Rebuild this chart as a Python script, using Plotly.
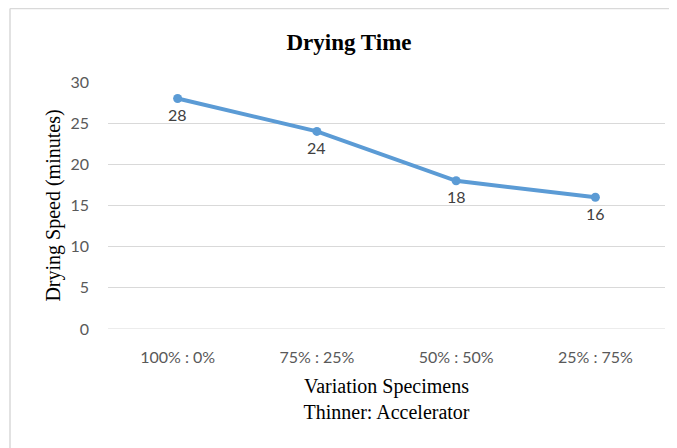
import plotly.graph_objects as go

categories = ["100% : 0%", "75% : 25%", "50% : 50%", "25% : 75%"]
drying_minutes = [28, 24, 18, 16]
y_ticks = [0, 5, 10, 15, 20, 25, 30]

# page body has an 8px default margin, so the figure is drawn 8px in from the window edge
OFF = 8
W, H = 677 - OFF, 448 - OFF
L, R, T, B = 108 - OFF, 12, 82 - OFF, 119
pw, ph = W - L - R, H - T - B

def px_x(x):
    return (x - OFF - L) / pw

def px_y(y):
    return (H - B - (y - OFF)) / ph

SANS = "Lato, Open Sans, sans-serif"
SERIF = "Liberation Serif, DejaVu Serif, serif"

fig = go.Figure()
fig.add_trace(go.Scatter(
    x=categories, y=drying_minutes, mode="lines+markers",
    line=dict(color="#5B9BD5", width=4),
    marker=dict(color="#5B9BD5", size=9),
    cliponaxis=False, showlegend=False,
))

for c, v in zip(categories, drying_minutes):
    fig.add_annotation(x=c, y=v, text=str(v), showarrow=False, xref="x", yref="y",
                       yshift=-16, font=dict(family=SANS, size=16, color="#404040"))

fig.update_layout(
    width=W, height=H,
    margin=dict(l=L, r=R, t=T, b=B),
    paper_bgcolor="white", plot_bgcolor="white",
    title=dict(text="<b>Drying Time</b>", xref="container", yref="container",
               x=(349 - OFF) / W, xanchor="center",
               y=1 - (42 - OFF) / H, yanchor="middle", automargin=False,
               font=dict(family=SERIF, size=23, color="#000000")),
    xaxis=dict(type="category", range=[-0.5, 3.5], showgrid=False, zeroline=False,
               showline=False, ticks="", ticklabelstandoff=17, automargin=False,
               tickfont=dict(family=SANS, size=16, color="#595959"),
               title=dict(text="Variation Specimens<br>Thinner: Accelerator", standoff=13,
                          font=dict(family=SERIF, size=20, color="#000000"))),
    yaxis=dict(range=[0, 30], tickvals=y_ticks, showgrid=True, gridcolor="#D9D9D9", gridwidth=1,
               zeroline=False, showline=False, ticks="", ticklabelstandoff=18, automargin=False,
               tickfont=dict(family=SANS, size=16, color="#595959"),
               title=dict(text="Drying Speed (minutes)", standoff=4,
                          font=dict(family=SERIF, size=20, color="#000000"))),
)

# zero baseline gridline
fig.add_shape(type="line", xref="paper", yref="y", x0=0, x1=1, y0=0, y1=0,
              line=dict(color="#D9D9D9", width=1))
# outer chart frame (left and top edges visible)
fig.add_shape(type="line", xref="paper", yref="paper", x0=px_x(10), x1=px_x(10),
              y0=px_y(8.6), y1=px_y(448), line=dict(color="#D9D9D9", width=1.5))
fig.add_shape(type="line", xref="paper", yref="paper", x0=px_x(10), x1=px_x(677),
              y0=px_y(8.6), y1=px_y(8.6), line=dict(color="#D9D9D9", width=1.5))

fig.write_html("out.html")
